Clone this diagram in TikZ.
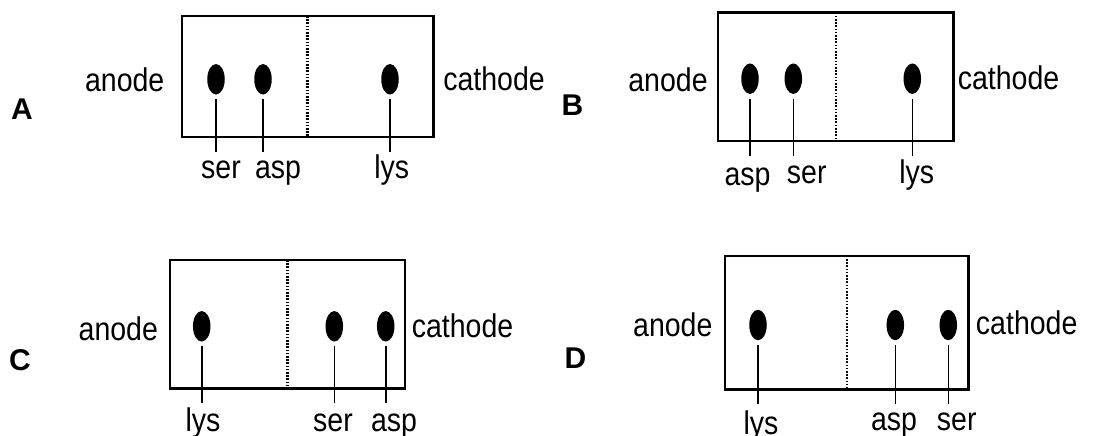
\documentclass[tikz,border=0pt]{standalone}
\usepackage{fontspec}
\setmainfont{Liberation Sans}
\usepackage{graphicx}
\usetikzlibrary{shapes.geometric}
\newcommand\tallt[1]{\scalebox{1}[1.15]{#1}}
\begin{document}
\begin{tikzpicture}[x=1pt,y=-1pt,
  gelbox/.style={draw, line width=2.4pt},
  divider/.style={line width=2.4pt, dash pattern=on 1.6pt off 1.6pt},
  spot/.style={ellipse, fill=black, draw=none, minimum width=17.5pt, minimum height=30.5pt, inner sep=0pt},
  stub/.style={line width=1.6pt, shorten <=4.5pt},
  lbl/.style={anchor=base, inner sep=0pt, font=\fontsize{28.5}{30}\selectfont},
  letter/.style={anchor=base, inner sep=0pt, font=\fontsize{30}{32}\selectfont\bfseries}]
\useasboundingbox (0,0) rectangle (1101,436);

% ---------- Panel A ----------
\node[letter] (letA) at (22,120) {A};
\node[lbl] (anA) at (124.7,91.7) {\tallt{anode}};
\node[lbl] (caA) at (494,90.5) {\tallt{cathode}};
\draw[gelbox] (181.7,16) rectangle (433.3,136.7);
\draw[divider] (307.3,16) -- (307.3,136.7);
\node[spot] (eA1) at (216,79.3) {};
\node[spot] (eA2) at (263,79.3) {};
\node[spot] (eA3) at (390,79.3) {};
\coordinate (tA1) at (216,151.7);
\coordinate (tA2) at (263,151.7);
\coordinate (tA3) at (390,151.7);
\draw[stub] (eA1.south) -- (tA1);
\draw[stub] (eA2.south) -- (tA2);
\draw[stub] (eA3.south) -- (tA3);
\node[lbl] (lA1) at (221,178) {\tallt{ser}};
\node[lbl] (lA2) at (278,178) {\tallt{asp}};
\node[lbl] (lA3) at (391.7,178) {\tallt{lys}};

% ---------- Panel B ----------
\node[letter] (letB) at (572.5,115) {B};
\node[lbl] (anB) at (668,92) {\tallt{anode}};
\node[lbl] (caB) at (1008.5,90) {\tallt{cathode}};
\draw[gelbox] (717.7,12.7) rectangle (953.3,140.7);
\draw[divider] (835.7,12.7) -- (835.7,140.7);
\node[spot] (eB1) at (750,78.7) {};
\node[spot] (eB2) at (793.3,78.7) {};
\node[spot] (eB3) at (912.3,78.7) {};
\coordinate (tB1) at (750,156);
\coordinate (tB2) at (793.3,156);
\coordinate (tB3) at (912.3,156);
\draw[stub] (eB1.south) -- (tB1);
\draw[stub] (eB2.south) -- (tB2);
\draw[stub] (eB3.south) -- (tB3);
\node[lbl] (lB1) at (747.5,185.5) {\tallt{asp}};
\node[lbl] (lB2) at (806.7,183.3) {\tallt{ser}};
\node[lbl] (lB3) at (916.7,183.3) {\tallt{lys}};

% ---------- Panel C ----------
\node[letter] (letC) at (20,370) {C};
\node[lbl] (anC) at (118.3,340) {\tallt{anode}};
\node[lbl] (caC) at (462.5,337) {\tallt{cathode}};
\draw[gelbox] (170,260) rectangle (405,388.3);
\draw[divider] (287.3,260) -- (287.3,388.3);
\node[spot] (eC1) at (201.7,326.3) {};
\node[spot] (eC2) at (334.3,326.3) {};
\node[spot] (eC3) at (385.7,326.3) {};
\coordinate (tC1) at (201.7,403.3);
\coordinate (tC2) at (334.3,403.3);
\coordinate (tC3) at (385.7,403.3);
\draw[stub] (eC1.south) -- (tC1);
\draw[stub] (eC2.south) -- (tC2);
\draw[stub] (eC3.south) -- (tC3);
\node[lbl] (lC1) at (203,431) {\tallt{lys}};
\node[lbl] (lC2) at (333,431) {\tallt{ser}};
\node[lbl] (lC3) at (394,431) {\tallt{asp}};

% ---------- Panel D ----------
\node[letter] (letD) at (575.5,368.3) {D};
\node[lbl] (anD) at (672.8,336) {\tallt{anode}};
\node[lbl] (caD) at (1026.7,334) {\tallt{cathode}};
\draw[gelbox] (725,255.7) rectangle (968.3,389.3);
\draw[divider] (846.7,255.7) -- (846.7,389.3);
\node[spot] (eD1) at (758,325) {};
\node[spot] (eD2) at (895.3,325) {};
\node[spot] (eD3) at (948.3,325) {};
\coordinate (tD1) at (758,404);
\coordinate (tD2) at (895.3,404);
\coordinate (tD3) at (948.3,404);
\draw[stub] (eD1.south) -- (tD1);
\draw[stub] (eD2.south) -- (tD2);
\draw[stub] (eD3.south) -- (tD3);
\node[lbl] (lD1) at (761,434) {\tallt{lys}};
\node[lbl] (lD2) at (894,430) {\tallt{asp}};
\node[lbl] (lD3) at (956.7,430) {\tallt{ser}};
\end{tikzpicture}
\end{document}
